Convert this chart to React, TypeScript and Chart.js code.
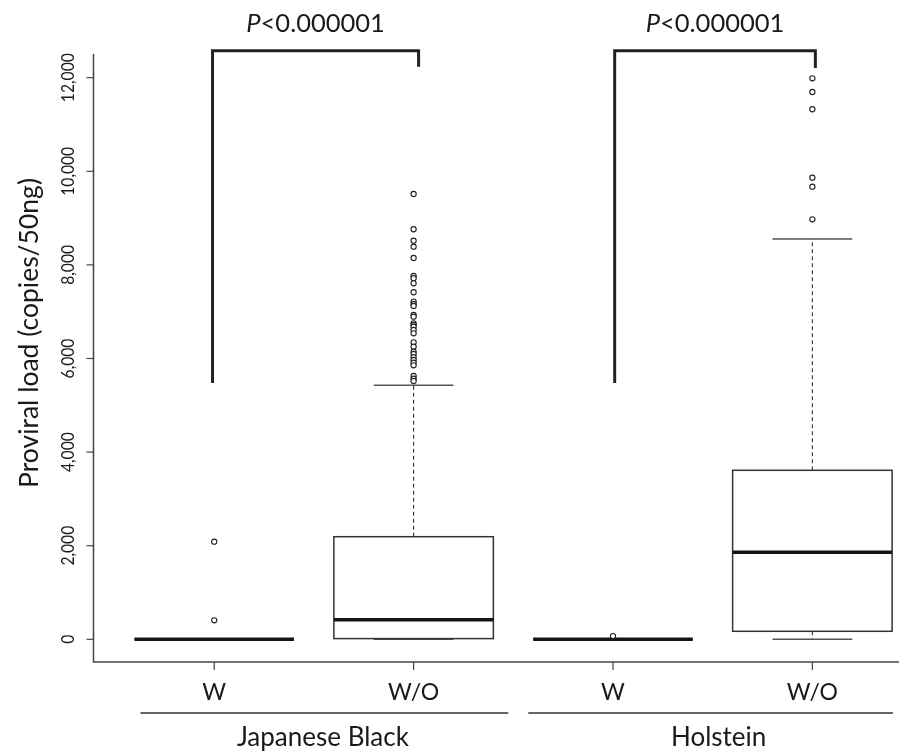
import React, { useEffect, useRef } from 'react';
import { Chart, registerables } from 'chart.js';

Chart.register(...registerables);

// ---------- data ----------
const categories = ['W', 'W/O', 'W', 'W/O'];
const categoryPositions = [1, 2, 3, 4];
const groupNames = ['Japanese Black', 'Holstein'];
const groupSpans = [
  [0.63, 2.475],
  [2.575, 4.404],
];
const groupLabelCenters = [1.545, 3.53];

const whiskerLow = [0, 0, 0, 0];
const quartile1 = [0, 15, 0, 171];
const medians = [0, 420, 0, 1859];
const quartile3 = [0, 2192, 0, 3611];
const whiskerHigh = [0, 5427, 0, 8553];

const outliersJapaneseBlackW = [2085, 406];
const outliersJapaneseBlackWO = [
  9515, 8761, 8517, 8389, 8147, 7763, 7714, 7607, 7415, 7214, 7165, 7122, 6929, 6893, 6752,
  6716, 6679, 6609, 6538, 6346, 6252, 6145, 6096, 6026, 5968, 5910, 5855, 5626, 5568, 5519,
];
const outliersHolsteinW = [70];
const outliersHolsteinWO = [11987, 11694, 11325, 9863, 9671, 8974];

const yTicks = [0, 2000, 4000, 6000, 8000, 10000, 12000];
const yTitle = 'Proviral load (copies/50ng)';

const pPrefix = 'P';
const pValueText = '<0.000001';
const bracketLeftX = [0.9915, 3.0085];
const bracketRightX = [2.025, 4.015];
const bracketTop = 12575;
const bracketLeftBottom = [5477, 5477];
const bracketRightBottom = [12235, 12207];

// ---------- drawing ----------
const FONT = 'Lato, "Open Sans", sans-serif';
const TEXT = '#1a1a1a';

function line(ctx: CanvasRenderingContext2D, x1: number, y1: number, x2: number, y2: number) {
  ctx.beginPath();
  ctx.moveTo(x1, y1);
  ctx.lineTo(x2, y2);
  ctx.stroke();
}

const boxPlugin = {
  id: 'boxDraw',
  beforeDatasetsDraw(chart: any) {
    const { ctx, scales } = chart;
    const x = scales.x;
    const y = scales.y;
    ctx.save();
    categoryPositions.forEach((c, i) => {
      const cx = x.getPixelForValue(c);
      const half = x.getPixelForValue(c + 0.4) - cx;
      const capHalf = half / 2;
      const pLo = y.getPixelForValue(whiskerLow[i]);
      const pQ1 = y.getPixelForValue(quartile1[i]);
      const pMed = y.getPixelForValue(medians[i]);
      const pQ3 = y.getPixelForValue(quartile3[i]);
      const pHi = y.getPixelForValue(whiskerHigh[i]);

      // whiskers (dashed)
      ctx.strokeStyle = '#333';
      ctx.lineWidth = 1.1;
      ctx.setLineDash([4, 3]);
      if (pHi < pQ3) line(ctx, cx, pQ3, cx, pHi);
      if (pLo > pQ1) line(ctx, cx, pQ1, cx, pLo);
      ctx.setLineDash([]);

      // staples
      ctx.strokeStyle = '#555';
      ctx.lineWidth = 1.4;
      line(ctx, cx - capHalf, pHi, cx + capHalf, pHi);
      line(ctx, cx - capHalf, pLo, cx + capHalf, pLo);

      // box
      ctx.fillStyle = '#ffffff';
      ctx.fillRect(cx - half, pQ3, half * 2, pQ1 - pQ3);
      ctx.strokeStyle = '#333';
      ctx.lineWidth = 1.5;
      ctx.strokeRect(cx - half, pQ3, half * 2, pQ1 - pQ3);

      // median
      ctx.strokeStyle = '#151515';
      ctx.lineWidth = 3.5;
      line(ctx, cx - half, pMed, cx + half, pMed);
    });
    ctx.restore();
  },
  afterDraw(chart: any) {
    const { ctx, scales, chartArea } = chart;
    const x = scales.x;
    const y = scales.y;
    const left = chartArea.left + 0.5;
    const top = chartArea.top;
    const bottom = chartArea.bottom;
    const right = chartArea.right;
    ctx.save();

    // axes
    ctx.strokeStyle = '#444';
    ctx.lineWidth = 1.5;
    ctx.beginPath();
    ctx.moveTo(left, top);
    ctx.lineTo(left, bottom);
    ctx.lineTo(right, bottom);
    ctx.stroke();

    // y ticks + labels
    ctx.fillStyle = TEXT;
    ctx.font = `17px ${FONT}`;
    ctx.textAlign = 'center';
    ctx.textBaseline = 'alphabetic';
    yTicks.forEach((v) => {
      const py = y.getPixelForValue(v);
      ctx.lineWidth = 1.2;
      line(ctx, left - 7, py, left, py);
      ctx.save();
      ctx.translate(73.5, py);
      ctx.rotate(-Math.PI / 2);
      ctx.scale(0.92, 1);
      ctx.fillText(v.toLocaleString('en-US'), 0, 0);
      ctx.restore();
    });

    // y title
    ctx.save();
    ctx.font = `26.5px ${FONT}`;
    ctx.translate(37.5, 333);
    ctx.rotate(-Math.PI / 2);
    ctx.fillText(yTitle, 0, 0);
    ctx.restore();

    // x ticks + labels
    ctx.font = `23px ${FONT}`;
    categoryPositions.forEach((c, i) => {
      const px = x.getPixelForValue(c);
      ctx.lineWidth = 1.2;
      line(ctx, px, bottom, px, bottom + 8);
      ctx.fillText(categories[i], px, 700);
    });

    // group lines + labels
    ctx.font = `26px ${FONT}`;
    groupNames.forEach((g, i) => {
      ctx.lineWidth = 1.5;
      ctx.strokeStyle = '#333';
      line(ctx, x.getPixelForValue(groupSpans[i][0]), 713, x.getPixelForValue(groupSpans[i][1]), 713);
      ctx.fillText(g, x.getPixelForValue(groupLabelCenters[i]), 746);
    });

    // brackets
    ctx.strokeStyle = '#222';
    ctx.lineWidth = 3;
    ctx.lineJoin = 'miter';
    bracketLeftX.forEach((bx, i) => {
      const x1 = x.getPixelForValue(bx);
      const x2 = x.getPixelForValue(bracketRightX[i]);
      const yt = y.getPixelForValue(bracketTop);
      ctx.beginPath();
      ctx.moveTo(x1, y.getPixelForValue(bracketLeftBottom[i]));
      ctx.lineTo(x1, yt);
      ctx.lineTo(x2, yt);
      ctx.lineTo(x2, y.getPixelForValue(bracketRightBottom[i]));
      ctx.stroke();

      // P label
      const cx = (x1 + x2) / 2;
      const fs = 25.5;
      ctx.font = `italic ${fs}px ${FONT}`;
      const w1 = ctx.measureText(pPrefix).width;
      ctx.font = `${fs}px ${FONT}`;
      const w2 = ctx.measureText(pValueText).width;
      const start = cx - (w1 + w2) / 2;
      ctx.textAlign = 'left';
      ctx.font = `italic ${fs}px ${FONT}`;
      ctx.fillText(pPrefix, start, 31.5);
      ctx.font = `${fs}px ${FONT}`;
      ctx.fillText(pValueText, start + w1, 31.5);
      ctx.textAlign = 'center';
    });

    ctx.restore();
  },
};

const outlierSets = [
  { pos: 1, values: outliersJapaneseBlackW },
  { pos: 2, values: outliersJapaneseBlackWO },
  { pos: 3, values: outliersHolsteinW },
  { pos: 4, values: outliersHolsteinWO },
];

export default function App() {
  const canvasRef = useRef<HTMLCanvasElement | null>(null);

  useEffect(() => {
    if (!canvasRef.current) return;
    const chart = new Chart(canvasRef.current, {
      type: 'scatter',
      data: {
        datasets: outlierSets.map((s, i) => ({
          label: `outliers ${i}`,
          data: s.values.map((v) => ({ x: s.pos, y: v })),
          pointStyle: 'circle',
          pointRadius: 2.6,
          pointBorderWidth: 1.1,
          pointBorderColor: '#222',
          pointBackgroundColor: '#ffffff',
          showLine: false,
        })),
      },
      options: {
        responsive: false,
        animation: false,
        layout: { padding: { left: 93, top: 54, right: 0, bottom: 89 } },
        scales: {
          x: { type: 'linear', min: 0.392, max: 4.434, display: false },
          y: { type: 'linear', min: -485, max: 12506, display: false },
        },
        plugins: {
          legend: { display: false },
          tooltip: { enabled: false },
        },
      },
      plugins: [boxPlugin],
    });
    return () => chart.destroy();
  }, []);

  return (
    <div style={{ position: 'absolute', left: 0, top: 0, width: 904, height: 751, background: '#fff' }}>
      <canvas ref={canvasRef} width={904} height={751} />
    </div>
  );
}
